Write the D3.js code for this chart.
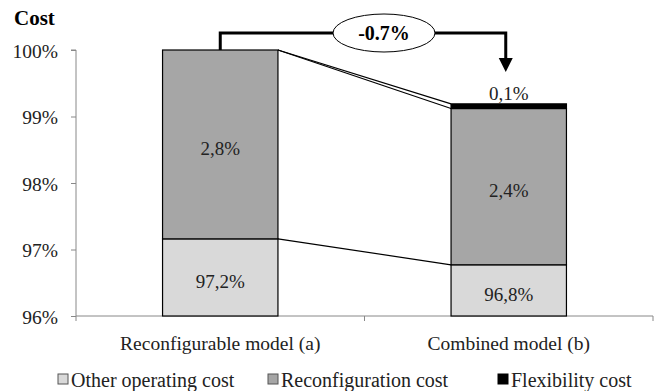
<!DOCTYPE html>
<html><head><meta charset="utf-8">
<script src="https://cdn.jsdelivr.net/npm/d3@7"></script>
<style>body{margin:0;background:#fff}svg{display:block}text{font-family:"Liberation Serif","DejaVu Serif",serif}</style>
</head><body><svg id="c" width="656" height="391"></svg>
<script>
const categories = ["Reconfigurable model (a)", "Combined model (b)"];
const seriesNames = ["Other operating cost", "Reconfiguration cost", "Flexibility cost"];
const otherCost = [97.16, 96.77];
const reconfCost = [2.84, 2.35];
const flexCost = [0, 0.07];
const otherLabels = ["97,2%", "96,8%"];
const reconfLabels = ["2,8%", "2,4%"];
const flexLabels = ["", "0,1%"];
const yTicks = [96, 97, 98, 99, 100];
const deltaLabel = "-0.7%";
const colors = ["#d9d9d9", "#a6a6a6", "#000000"];

const svg = d3.select("#c");
const y = d3.scaleLinear().domain([96, 100]).range([316, 50]);
const x = d3.scaleBand().domain(categories).range([76, 653]).padding(0);
const bw = x.bandwidth() * 0.4;
const cx = c => x(c) + x.bandwidth() / 2;

const rows = categories.map((c, i) => {
  const v = [otherCost[i], reconfCost[i], flexCost[i]];
  let acc = 0;
  return v.map((d, k) => { const y0 = acc; acc += d; return {c, k, y0, y1: acc}; });
});

// axes
const yAxis = d3.axisLeft(y).tickValues(yTicks).tickFormat(d => d + "%").tickSize(5).tickPadding(13);
const gy = svg.append("g").attr("transform", "translate(76,0)").call(yAxis);
gy.selectAll("path,line").attr("stroke", "#888");
gy.select(".domain").attr("d", "M-5,50H0V316");
gy.selectAll("text").attr("font-size", 19.5).attr("fill", "#222").attr("font-family", "Liberation Serif").attr("dy", "0.38em");

const gx = svg.append("g").attr("transform", "translate(0,316)");
gx.append("line").attr("x1", 76).attr("x2", 653).attr("stroke", "#888");
const edges = [x(categories[0]), x(categories[1]), x(categories[1]) + x.bandwidth()];
gx.selectAll(".t").data(edges).join("line").attr("x1", d => d).attr("x2", d => d).attr("y1", 0).attr("y2", 5).attr("stroke", "#888");
gx.selectAll(".lab").data(categories).join("text").attr("x", d => cx(d)).attr("y", 34)
  .attr("text-anchor", "middle").attr("font-size", 19.5).attr("fill", "#222").text(d => d);

// series lines
for (let k = 0; k < 3; k++) {
  const a = rows[0][k], b = rows[1][k];
  svg.append("line")
    .attr("x1", cx(categories[0]) + bw / 2).attr("y1", y(a.y1))
    .attr("x2", cx(categories[1]) - bw / 2).attr("y2", y(b.y1))
    .attr("stroke", "#000").attr("stroke-width", 1.2);
}

// bars
rows.forEach(r => r.forEach(s => {
  if (s.y1 - s.y0 <= 0) return;
  const top = y(s.y1);
  const bot = s.k === 0 ? y(96) : y(s.y0);
  svg.append("rect").attr("x", cx(s.c) - bw / 2).attr("y", top).attr("width", bw).attr("height", bot - top)
    .attr("fill", colors[s.k]).attr("stroke", "#000").attr("stroke-width", 1.2);
}));

// labels
categories.forEach((c, i) => {
  const r = rows[i];
  svg.append("text").attr("x", cx(c)).attr("y", (y(96) + y(r[0].y1)) / 2 + 4).attr("dy", "0.35em")
    .attr("text-anchor", "middle").attr("font-size", 19).attr("fill", "#222").text(otherLabels[i]);
  svg.append("text").attr("x", cx(c)).attr("y", (y(r[1].y0) + y(r[1].y1)) / 2 + 4).attr("dy", "0.35em")
    .attr("text-anchor", "middle").attr("font-size", 19).attr("fill", "#222").text(reconfLabels[i]);
  if (flexLabels[i]) svg.append("text").attr("x", cx(c)).attr("y", y(r[2].y1) - 4)
    .attr("text-anchor", "middle").attr("font-size", 19).attr("fill", "#222").text(flexLabels[i]);
});

// arrow
const ax = cx(categories[1]) - 3;
svg.append("path").attr("d", `M${cx(categories[0])},${y(100)}V33H${ax}V60`).attr("fill", "none").attr("stroke", "#000").attr("stroke-width", 3);
svg.append("path").attr("d", `M${ax - 7},58L${ax + 7},58L${ax},72Z`).attr("fill", "#000");
svg.append("ellipse").attr("cx", 384).attr("cy", 33).attr("rx", 51).attr("ry", 19).attr("fill", "#fff").attr("stroke", "#000").attr("stroke-width", 1);
svg.append("text").attr("x", 384).attr("y", 33).attr("dy", "0.35em").attr("text-anchor", "middle")
  .attr("font-size", 20).attr("font-weight", "bold").attr("fill", "#000").text(deltaLabel);

// title
svg.append("text").attr("x", 14).attr("y", 25).attr("font-size", 21).attr("font-weight", "bold").attr("fill", "#000").text("Cost");

// legend
const legX = [58, 268, 498];
seriesNames.forEach((n, i) => {
  svg.append("rect").attr("x", legX[i]).attr("y", 374).attr("width", 10).attr("height", 10)
    .attr("fill", colors[i]).attr("stroke", i === 2 ? "#000" : "#555").attr("stroke-width", 1);
  svg.append("text").attr("x", legX[i] + 13).attr("y", 387).attr("font-size", 20).attr("fill", "#222").text(n);
});
</script></body></html>
